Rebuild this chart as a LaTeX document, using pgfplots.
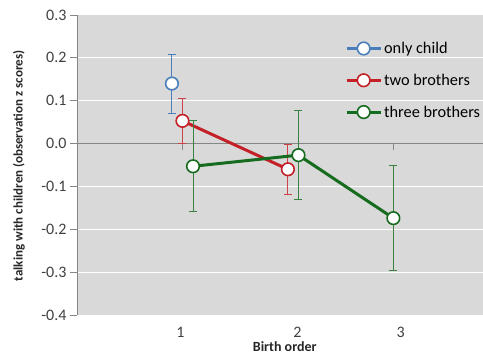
\documentclass[border=0pt]{standalone}
\usepackage{pgfplots}
\pgfplotsset{compat=1.18}
\usepackage{fontspec}
\setmainfont{Carlito}
\definecolor{cblue}{RGB}{74,126,187}
\definecolor{cred}{RGB}{196,32,40}
\definecolor{cgreen}{RGB}{22,108,30}
\definecolor{bggray}{RGB}{217,217,217}
\definecolor{axgray}{RGB}{134,134,134}
\definecolor{txtgray}{RGB}{64,64,64}
\begin{document}
\begin{tikzpicture}
\useasboundingbox (-77bp,-40bp) rectangle (406bp,315bp);
\begin{axis}[
  scale only axis, width=406bp, height=300bp,
  at={(0,0)}, anchor=south west,
  xmin=0, xmax=3.85, ymin=-0.4, ymax=0.3,
  axis background/.style={fill=bggray},
  axis y line*=left, axis x line=none,
  y axis line style={axgray, line width=0.9bp},
  ytick={-0.4,-0.3,-0.2,-0.1,0,0.1,0.2,0.3},
  yticklabel style={font=\fontsize{16bp}{18bp}\selectfont, text=txtgray,
    /pgf/number format/fixed, /pgf/number format/fixed zerofill,
    /pgf/number format/precision=1, /pgf/number format/assume math mode=true},
  major tick length=7bp, tick align=outside,
  ytick style={axgray, line width=0.9bp},
  ymajorgrids, grid style={white, line width=1bp},
  clip=false,
  legend style={at={(rel axis cs:0.66,0.917)}, anchor=north west, draw=none, fill=none,
    font=\fontsize{16.3bp}{18bp}\selectfont, row sep=15bp, inner sep=0pt,
    /tikz/every even column/.append style={column sep=2bp}},
  legend cell align=left,
  legend image code/.code={\draw[mark repeat=2,mark phase=2,#1] plot coordinates {(0bp,0bp) (17bp,0bp) (34bp,0bp)};},
]
\draw[axgray, line width=0.9bp] (axis cs:0,0) -- (axis cs:3.85,0);
\draw[axgray, line width=0.9bp] (axis cs:1,0) -- (axis cs:1,-0.014);
\draw[axgray, line width=0.9bp] (axis cs:2,0) -- (axis cs:2,-0.014);
\draw[axgray, line width=0.9bp] (axis cs:3,0) -- (axis cs:3,-0.014);

\addplot[cblue, line width=3bp, mark=*, mark size=6.3bp,
  mark options={fill=white, draw=cblue, line width=1.6bp},
  error bars/.cd, y dir=both, y explicit,
  error bar style={cblue, line width=0.9bp},
  error mark options={rotate=90, mark size=4bp, cblue, line width=0.9bp}]
  coordinates {(0.9,0.140) +- (0,0.069)};
\addlegendentry{only child}

\addplot[cred, line width=3bp, mark=*, mark size=6.3bp,
  mark options={fill=white, draw=cred, line width=1.6bp},
  error bars/.cd, y dir=both, y explicit,
  error bar style={cred!85!white, line width=0.9bp},
  error mark options={rotate=90, mark size=4bp, cred!85!white, line width=0.9bp}]
  coordinates {(1.0,0.053) +- (0,0.053) (2.0,-0.060) +- (0,0.058)};
\addlegendentry{two brothers}

\addplot[cgreen, line width=3bp, mark=*, mark size=6.3bp,
  mark options={fill=white, draw=cgreen, line width=1.6bp},
  error bars/.cd, y dir=both, y explicit,
  error bar style={cgreen!85!white, line width=0.9bp},
  error mark options={rotate=90, mark size=4bp, cgreen!85!white, line width=0.9bp}]
  coordinates {(1.1,-0.053) +- (0,0.106) (2.1,-0.027) +- (0,0.104) (3.0,-0.174) +- (0,0.123)};
\addlegendentry{three brothers}

\node[text=txtgray, font=\fontsize{16bp}{18bp}\selectfont, inner sep=0pt, anchor=center] at (axis cs:0.98,-0.4) [yshift=-17.5bp] {1};
\node[text=txtgray, font=\fontsize{16bp}{18bp}\selectfont, inner sep=0pt, anchor=center] at (axis cs:2.09,-0.4) [yshift=-17.5bp] {2};
\node[text=txtgray, font=\fontsize{16bp}{18bp}\selectfont, inner sep=0pt, anchor=center] at (axis cs:3.07,-0.4) [yshift=-17.5bp] {3};
\node[text=black!85, font=\bfseries\fontsize{14bp}{16bp}\selectfont, inner sep=0pt, anchor=center] at (axis cs:1.97,-0.4) [yshift=-32bp] {Birth order};
\node[text=black!85, font=\bfseries\fontsize{13bp}{15bp}\selectfont, inner sep=0pt, anchor=center] at (rel axis cs:0,0.497) [xshift=-58bp, rotate=90] {talking with children (observation z scores)};
\end{axis}
\end{tikzpicture}
\end{document}
